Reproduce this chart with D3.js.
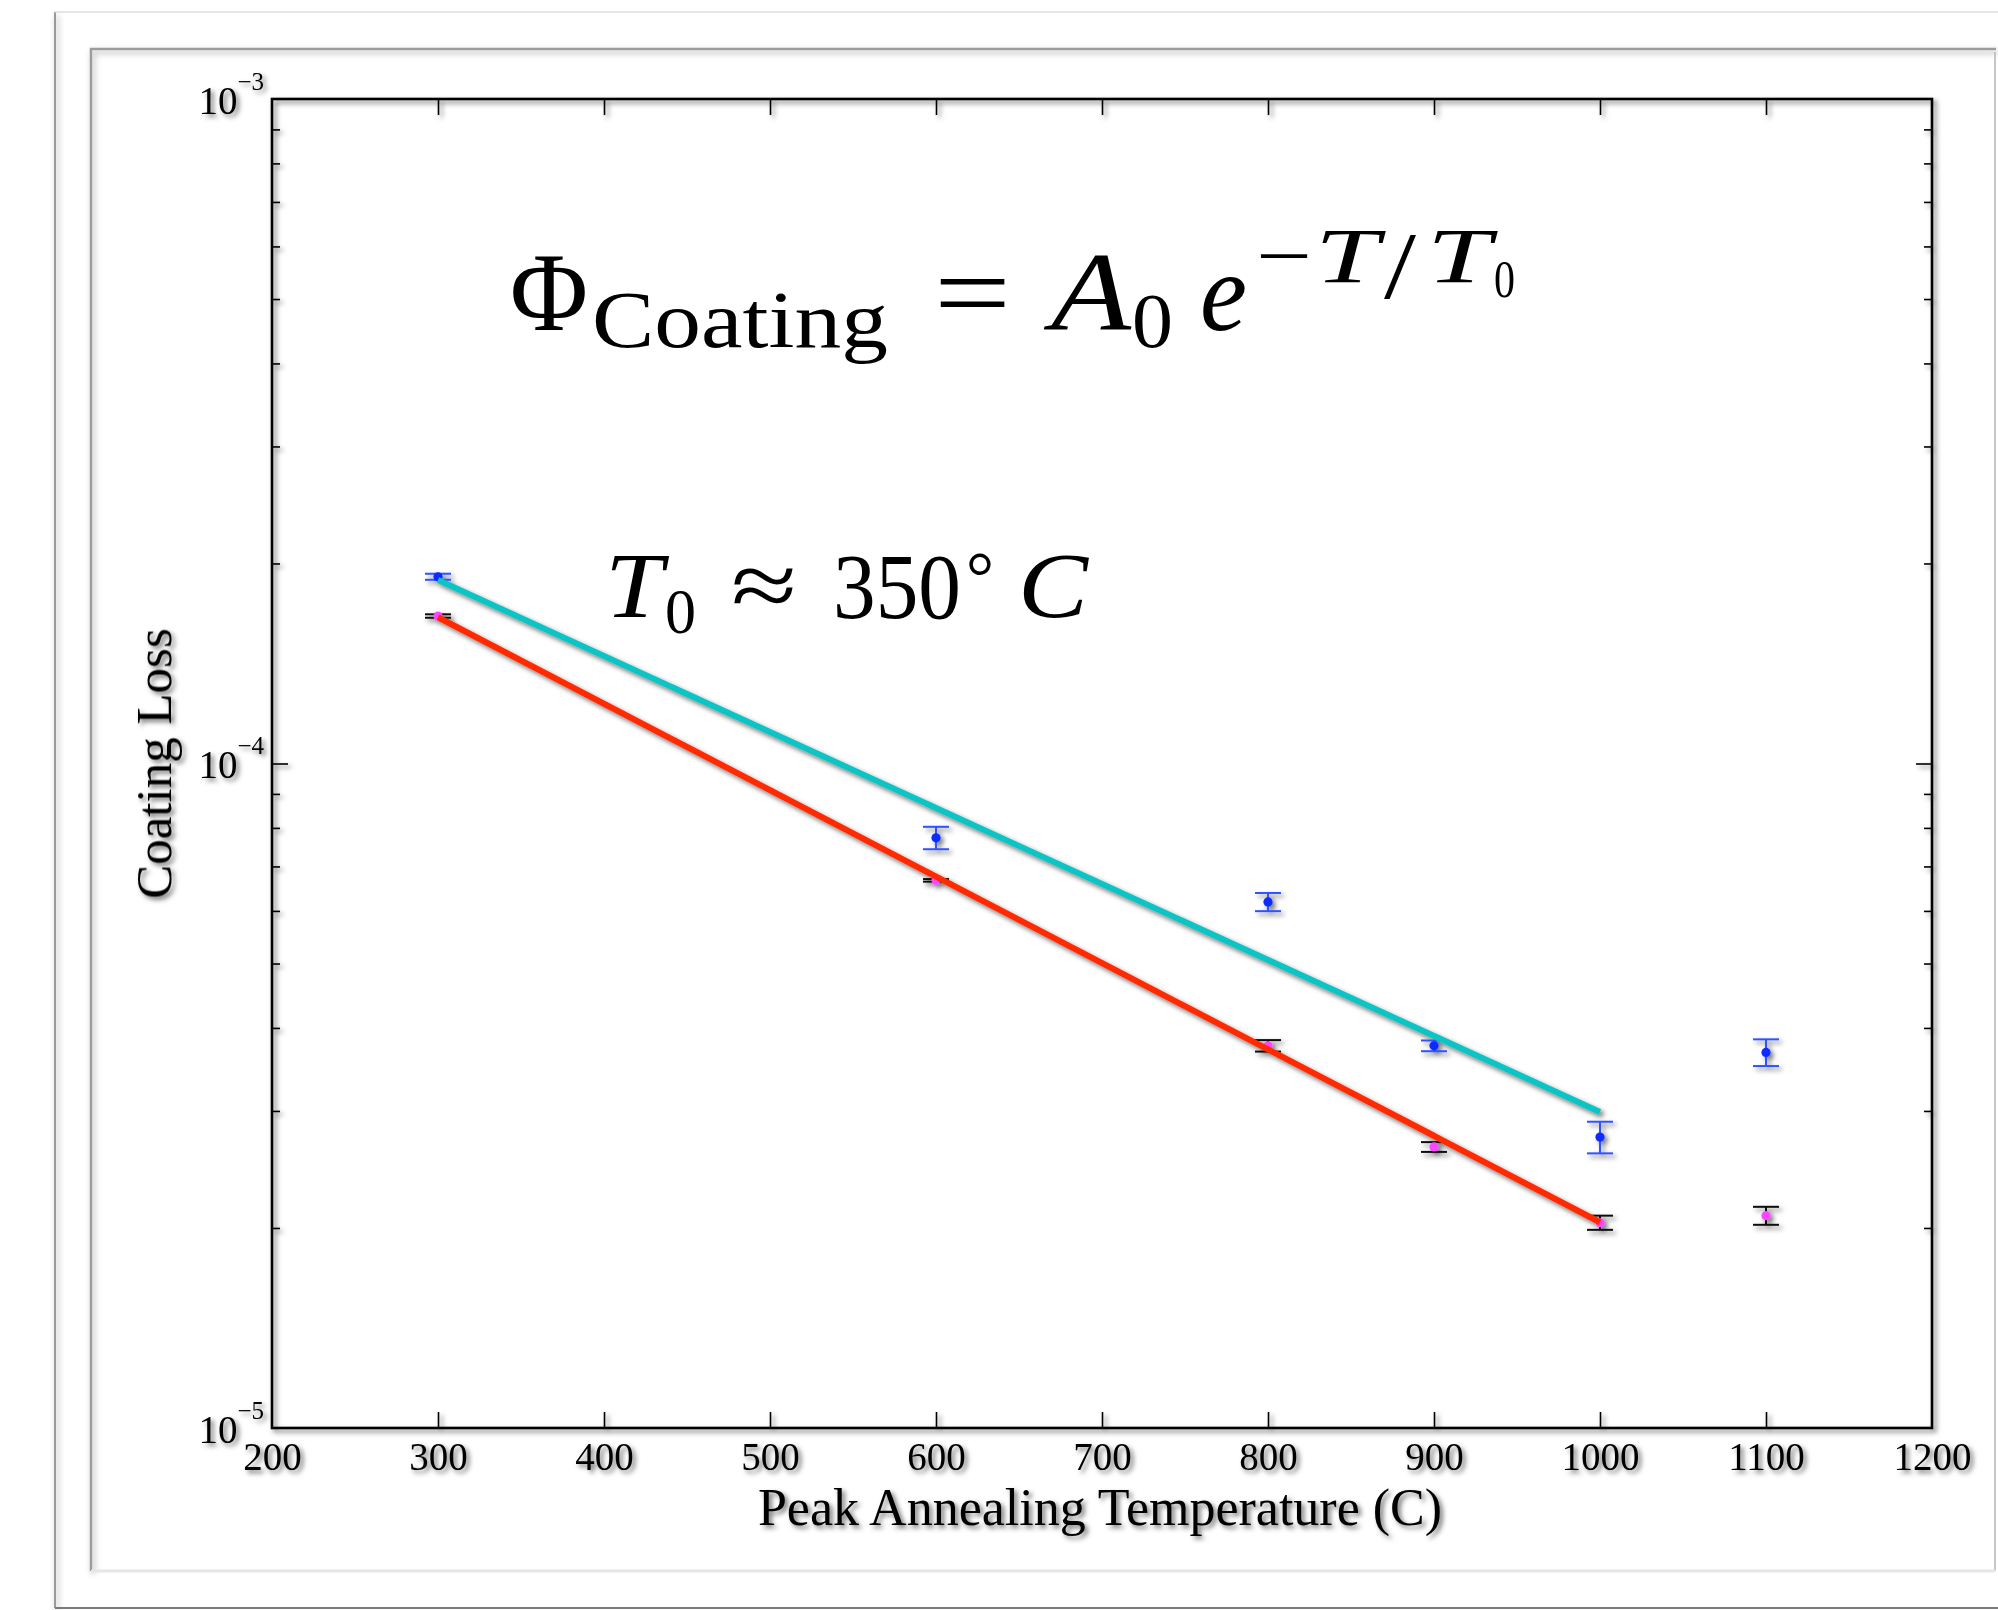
<!DOCTYPE html>
<html>
<head>
<meta charset="utf-8">
<script src="https://cdn.jsdelivr.net/npm/d3@7"></script>
<style>
  html, body { margin: 0; padding: 0; background: #ffffff; }
  svg { display: block; }
</style>
</head>
<body>
<svg id="chart" width="1998" height="1610"></svg>
<script>
// ---- data ----
const xTickValues = [200, 300, 400, 500, 600, 700, 800, 900, 1000, 1100, 1200];
const yMajorTicks = [1e-5, 1e-4, 1e-3];
const yMinorTicks = [2e-5, 3e-5, 4e-5, 5e-5, 6e-5, 7e-5, 8e-5, 9e-5,
                     2e-4, 3e-4, 4e-4, 5e-4, 6e-4, 7e-4, 8e-4, 9e-4];

const annealTemp = [300, 600, 800, 900, 1000, 1100];
const lossBlue = [1.91e-4, 7.73e-5, 6.19e-5, 3.76e-5, 2.74e-5, 3.675e-5];
const errBlue = [2.0e-6, 3.0e-6, 1.95e-6, 7.0e-7, 1.5e-6, 1.7e-6];
const lossMagenta = [1.667e-4, 6.67e-5, 3.76e-5, 2.648e-5, 2.037e-5, 2.087e-5];
const errMagenta = [1.0e-6, 3.0e-7, 7.5e-7, 4.5e-7, 5.0e-7, 6.5e-7];

// exponential fits, drawn as straight segments on the log axis
const fitCyanTemp = [300, 1000];
const fitCyanLoss = [1.888e-4, 2.99e-5];
const fitRedTemp = [300, 1000];
const fitRedLoss = [1.66e-4, 2.04e-5];

// ---- layout ----
const W = 1998, H = 1610;
const plot = { left: 272, right: 1932, top: 99, bottom: 1428 };
const serif = '"Liberation Serif", "Times New Roman", Times, serif';

const svg = d3.select('#chart');

const defs = svg.append('defs');
const flt = defs.append('filter').attr('id', 'shadow')
  .attr('filterUnits', 'userSpaceOnUse')
  .attr('x', 0).attr('y', 0).attr('width', W).attr('height', H);
flt.append('feDropShadow').attr('dx', 3).attr('dy', 3).attr('stdDeviation', 2.4)
  .attr('flood-color', '#000').attr('flood-opacity', 0.55);

const fltSoft = defs.append('filter').attr('id', 'frameShadow')
  .attr('filterUnits', 'userSpaceOnUse')
  .attr('x', 0).attr('y', 0).attr('width', W).attr('height', H);
fltSoft.append('feDropShadow').attr('dx', 2).attr('dy', 3).attr('stdDeviation', 3)
  .attr('flood-color', '#000').attr('flood-opacity', 0.35);

svg.append('rect').attr('width', W).attr('height', H).attr('fill', '#fff');

// page and slide frames
const frames = svg.append('g');
frames.append('path').attr('d', 'M55,1608 V12').attr('stroke', '#9a9a9a').attr('stroke-width', 2)
  .attr('fill', 'none').attr('filter', 'url(#frameShadow)');
frames.append('path').attr('d', 'M55,12 H2000').attr('stroke', '#dddddd').attr('stroke-width', 1.5).attr('fill', 'none');
frames.append('path').attr('d', 'M55,1608 H2000').attr('stroke', '#7a7a7a').attr('stroke-width', 2).attr('fill', 'none');
frames.append('path').attr('d', 'M91,1571 V49 H1996').attr('stroke', '#9c9c9c').attr('stroke-width', 2.5)
  .attr('fill', 'none').attr('filter', 'url(#frameShadow)');
frames.append('path').attr('d', 'M1995,52 V1571').attr('stroke', '#b5b5b5').attr('stroke-width', 1.5).attr('fill', 'none');
frames.append('path').attr('d', 'M91,1571 H1995').attr('stroke', '#e6e6e6').attr('stroke-width', 3).attr('fill', 'none');

// ---- scales ----
const x = d3.scaleLinear().domain([200, 1200]).range([plot.left, plot.right]);
const y = d3.scaleLog().domain([1e-5, 1e-3]).range([plot.bottom, plot.top]);

// ---- axes ----
const axesG = svg.append('g').attr('filter', 'url(#shadow)');

function styleAxis(g) {
  g.select('.domain').remove();
  g.selectAll('.tick line').attr('stroke', '#000').attr('stroke-width', 1.6);
}

const xBottom = axesG.append('g').attr('transform', `translate(0,${plot.bottom})`)
  .call(d3.axisBottom(x).tickValues(xTickValues).tickSizeInner(-16).tickSizeOuter(0)
        .tickPadding(14).tickFormat(d3.format('d')));
styleAxis(xBottom);
xBottom.selectAll('.tick text').attr('font-family', serif).attr('font-size', 39).attr('fill', '#000');
// end ticks coincide with the frame
xBottom.selectAll('.tick').filter(d => d === 200 || d === 1200).select('line').remove();

const xTop = axesG.append('g').attr('transform', `translate(0,${plot.top})`)
  .call(d3.axisTop(x).tickValues(xTickValues.filter(d => d > 200 && d < 1200))
        .tickSizeInner(-16).tickSizeOuter(0).tickFormat(''));
styleAxis(xTop);

const yLeft = axesG.append('g').attr('transform', `translate(${plot.left},0)`)
  .call(d3.axisLeft(y).tickValues(yMajorTicks).tickSizeInner(-16).tickSizeOuter(0).tickPadding(8));
styleAxis(yLeft);
yLeft.selectAll('.tick').filter(d => d !== 1e-4).select('line').remove();
yLeft.selectAll('.tick text').each(function (d) {
  const t = d3.select(this);
  const exp = Math.round(Math.log10(d));
  t.text(null).attr('dy', null)
    .attr('font-family', serif).attr('fill', '#000').attr('text-anchor', 'end');
  t.append('tspan').attr('font-size', 39).attr('dy', 14).text('10');
  t.append('tspan').attr('font-size', 25).attr('dy', -24).text('\u2212' + Math.abs(exp));
});

const yLeftMinor = axesG.append('g').attr('transform', `translate(${plot.left},0)`)
  .call(d3.axisLeft(y).tickValues(yMinorTicks).tickSizeInner(-8).tickSizeOuter(0).tickFormat(''));
styleAxis(yLeftMinor);

const yRight = axesG.append('g').attr('transform', `translate(${plot.right},0)`)
  .call(d3.axisRight(y).tickValues([1e-4]).tickSizeInner(-16).tickSizeOuter(0).tickFormat(''));
styleAxis(yRight);
const yRightMinor = axesG.append('g').attr('transform', `translate(${plot.right},0)`)
  .call(d3.axisRight(y).tickValues(yMinorTicks).tickSizeInner(-8).tickSizeOuter(0).tickFormat(''));
styleAxis(yRightMinor);

// plot frame
axesG.append('rect')
  .attr('x', plot.left).attr('y', plot.top)
  .attr('width', plot.right - plot.left).attr('height', plot.bottom - plot.top)
  .attr('fill', 'none').attr('stroke', '#000').attr('stroke-width', 2.6);

// axis titles
axesG.append('text')
  .attr('x', (plot.left + plot.right) / 2 - 2).attr('y', 1525)
  .attr('text-anchor', 'middle').attr('font-family', serif).attr('font-size', 52).attr('fill', '#000')
  .text('Peak Annealing Temperature (C)');
axesG.append('text')
  .attr('transform', `translate(171,${(plot.top + plot.bottom) / 2}) rotate(-90)`)
  .attr('text-anchor', 'middle').attr('font-family', serif).attr('font-size', 51).attr('fill', '#000')
  .text('Coating Loss');

// ---- data marks ----
const marks = svg.append('g').attr('filter', 'url(#shadow)');

function drawSeries(vals, errs, dotColor, barColor) {
  const rows = annealTemp.map((t, i) => ({ t, v: vals[i], e: errs[i] }));
  const g = marks.append('g');
  const capHalf = 13;
  const eb = g.selectAll('g.eb').data(rows).join('g').attr('class', 'eb')
    .attr('stroke', barColor).attr('stroke-width', 2).attr('fill', 'none');
  eb.append('line')
    .attr('x1', d => x(d.t)).attr('x2', d => x(d.t))
    .attr('y1', d => y(d.v + d.e)).attr('y2', d => y(d.v - d.e));
  eb.append('line')
    .attr('x1', d => x(d.t) - capHalf).attr('x2', d => x(d.t) + capHalf)
    .attr('y1', d => y(d.v + d.e)).attr('y2', d => y(d.v + d.e));
  eb.append('line')
    .attr('x1', d => x(d.t) - capHalf).attr('x2', d => x(d.t) + capHalf)
    .attr('y1', d => y(d.v - d.e)).attr('y2', d => y(d.v - d.e));
  g.selectAll('circle').data(rows).join('circle')
    .attr('cx', d => x(d.t)).attr('cy', d => y(d.v)).attr('r', 4.6)
    .attr('fill', dotColor);
}
drawSeries(lossBlue, errBlue, '#0a2cff', '#2f52ff');
drawSeries(lossMagenta, errMagenta, '#ff44ff', '#111111');

const line = d3.line().x(d => x(d[0])).y(d => y(d[1]));
marks.append('path')
  .attr('d', line(fitCyanTemp.map((t, i) => [t, fitCyanLoss[i]])))
  .attr('stroke', '#10c4c4').attr('stroke-width', 6).attr('fill', 'none');
marks.append('path')
  .attr('d', line(fitRedTemp.map((t, i) => [t, fitRedLoss[i]])))
  .attr('stroke', '#ff2a00').attr('stroke-width', 6).attr('fill', 'none');

// ---- annotations: each formula is set from positioned glyph pieces,
// each piece scaled horizontally to its target advance width ----
function formula(pieces) {
  const g = svg.append('g').attr('font-family', serif).attr('fill', '#000');
  pieces.forEach(p => {
    const t = g.append('text').attr('font-size', p.size).text(p.txt);
    if (p.italic) t.attr('font-style', 'italic');
    const natural = t.node().getComputedTextLength() || p.len;
    const sx = p.len / natural;
    t.attr('transform', `translate(${p.x},${p.y}) scale(${sx},1)`);
  });
  return g;
}
// Φ_Coating = A_0 e^{−T/T_0}
formula([
  { txt: '\u03A6', x: 510, y: 330, size: 112, len: 78 },
  { txt: 'Coating', x: 592, y: 347, size: 80, len: 296 },
  { txt: '=', x: 934, y: 330, size: 112, len: 77 },
  { txt: 'A', x: 1051, y: 330, size: 112, italic: true, len: 80 },
  { txt: '0', x: 1132, y: 347, size: 78, len: 41 },
  { txt: 'e', x: 1200, y: 330, size: 112, italic: true, len: 47 },
  { txt: '\u2212', x: 1256, y: 282, size: 78, len: 56 },
  { txt: 'T', x: 1315, y: 282, size: 78, italic: true, len: 64 },
  { txt: '/', x: 1384, y: 298, size: 96, len: 32 },
  { txt: 'T', x: 1427, y: 282, size: 78, italic: true, len: 64 },
  { txt: '0', x: 1494, y: 297, size: 52, len: 21 }
]);

// T_0 ≈ 350°C
formula([
  { txt: 'T', x: 605, y: 617, size: 94, italic: true, len: 58 },
  { txt: '0', x: 665, y: 633, size: 64, len: 31 },
  { txt: '\u2248', x: 731, y: 617, size: 94, len: 66 },
  { txt: '350', x: 833, y: 618, size: 94, len: 128 },
  { txt: '\u00B0', x: 966, y: 600, size: 70, len: 28 },
  { txt: 'C', x: 1018, y: 617, size: 94, italic: true, len: 70 }
]);
</script>
</body>
</html>
